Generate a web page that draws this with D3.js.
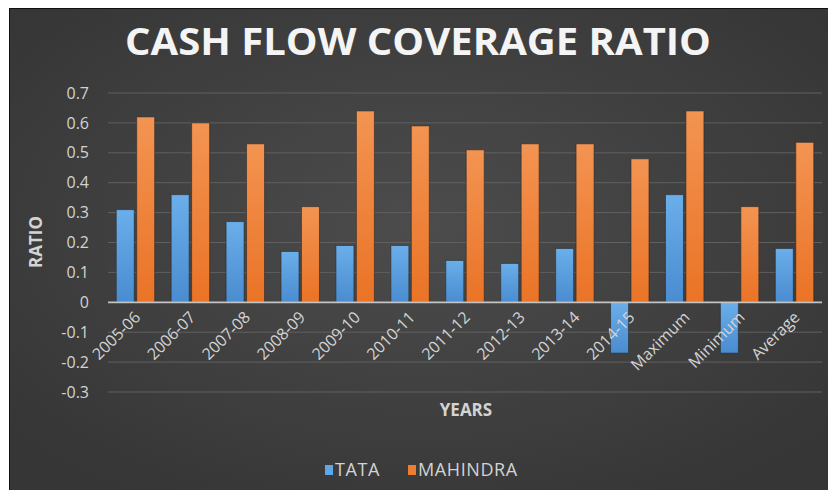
<!DOCTYPE html>
<html>
<head>
<meta charset="utf-8">
<script src="https://cdn.jsdelivr.net/npm/d3@7"></script>
<style>
  body { margin: 0; background: #fff; }
  svg { display: block; }
</style>
</head>
<body>
<div id="chart"></div>
<script>
const categories = ["2005-06", "2006-07", "2007-08", "2008-09", "2009-10", "2010-11", "2011-12",
    "2012-13", "2013-14", "2014-15", "Maximum", "Minimum", "Average"];
const tata = [0.31, 0.36, 0.27, 0.17, 0.19, 0.19, 0.14, 0.13, 0.18, -0.17, 0.36, -0.17, 0.18];
const mahindra = [0.62, 0.60, 0.53, 0.32, 0.64, 0.59, 0.51, 0.53, 0.53, 0.48, 0.64, 0.32, 0.535];
const seriesNames = ["TATA", "MAHINDRA"];
const yTicks = [-0.3, -0.2, -0.1, 0, 0.1, 0.2, 0.3, 0.4, 0.5, 0.6, 0.7];

const WIDTH = 828, HEIGHT = 490;
const MARGIN = {top: 93, right: 6, bottom: 98, left: 108};
const PLOT_W = WIDTH - MARGIN.left - MARGIN.right;
const PLOT_H = HEIGHT - MARGIN.top - MARGIN.bottom;
const FONT = "'Open Sans', 'DejaVu Sans', sans-serif";
const LABEL = "#d3d3d3";

const svg = d3.select("#chart").append("svg")
    .attr("width", WIDTH)
    .attr("height", HEIGHT);

const defs = svg.append("defs");
const bg = defs.append("radialGradient").attr("id", "bg")
    .attr("cx", "50%").attr("cy", "45%").attr("r", "65%");
bg.append("stop").attr("offset", "0%").attr("stop-color", "#4c4c4c");
bg.append("stop").attr("offset", "100%").attr("stop-color", "#363636");

function barGrad(id, top, bottom) {
    const g = defs.append("linearGradient").attr("id", id)
        .attr("x1", 0).attr("y1", 0).attr("x2", 0).attr("y2", 1);
    g.append("stop").attr("offset", "0%").attr("stop-color", top);
    g.append("stop").attr("offset", "100%").attr("stop-color", bottom);
}
barGrad("gTata", "#6aaeea", "#4a8cd0");
barGrad("gMah", "#f39452", "#ea7326");
const fills = ["url(#gTata)", "url(#gMah)"];
const swatch = ["#5ba7e8", "#ed7d31"];

// white frame + dark chart area
svg.append("rect").attr("width", WIDTH).attr("height", HEIGHT).attr("fill", "#fff");
svg.append("rect").attr("x", 9).attr("y", 8).attr("width", WIDTH - 9).attr("height", HEIGHT - 8)
    .attr("fill", "#111");
svg.append("rect").attr("x", 10).attr("y", 9).attr("width", WIDTH - 10).attr("height", HEIGHT - 9)
    .attr("fill", "url(#bg)");

// title
svg.append("text")
    .attr("x", 418).attr("y", 55)
    .attr("text-anchor", "middle")
    .attr("font-family", FONT).attr("font-weight", 700).attr("font-size", 38)
    .attr("fill", "#f4f4f4")
    .attr("textLength", 586).attr("lengthAdjust", "spacingAndGlyphs")
    .text("CASH FLOW COVERAGE RATIO");

const chart = svg.append("g")
    .attr("transform", `translate(${MARGIN.left},${MARGIN.top})`);

const x = d3.scaleBand().domain(categories).range([0, PLOT_W]).paddingInner(0.3).paddingOuter(0.15);
const xSub = d3.scaleBand().domain(seriesNames).range([0, x.bandwidth()]).paddingInner(0.12);
const y = d3.scaleLinear().domain([-0.3, 0.7]).range([PLOT_H, 0]);

// gridlines
chart.append("g")
    .selectAll("line")
    .data(yTicks.filter(d => d !== 0))
    .join("line")
    .attr("x1", 0).attr("x2", PLOT_W)
    .attr("y1", d => y(d)).attr("y2", d => y(d))
    .attr("stroke", "#606060").attr("stroke-width", 1);

// y axis labels (plain hyphen for negatives, like the original)
const yAxis = chart.append("g")
    .call(d3.axisLeft(y).tickValues(yTicks).tickSize(0).tickPadding(19)
        .tickFormat(d => d === 0 ? "0" : (d < 0 ? "-" : "") + Math.abs(d).toFixed(1)));
yAxis.select(".domain").remove();
yAxis.selectAll("text")
    .attr("font-family", FONT).attr("font-size", 16).attr("fill", LABEL);

// bars
const data = categories.map((c, i) => ({cat: c, vals: [tata[i], mahindra[i]]}));
const groups = chart.selectAll(".grp")
    .data(data)
    .join("g")
    .attr("class", "grp")
    .attr("transform", d => `translate(${x(d.cat)},0)`);

groups.selectAll("rect")
    .data(d => d.vals.map((v, k) => ({key: seriesNames[k], v, k})))
    .join("rect")
    .attr("x", d => xSub(d.key))
    .attr("width", xSub.bandwidth())
    .attr("y", d => y(Math.max(0, d.v)))
    .attr("height", d => Math.abs(y(d.v) - y(0)))
    .attr("fill", d => fills[d.k])
    .attr("stroke", "#2a2a2a").attr("stroke-opacity", 0.6).attr("stroke-width", 1);

// zero line
chart.append("line")
    .attr("x1", 0).attr("x2", PLOT_W)
    .attr("y1", y(0)).attr("y2", y(0))
    .attr("stroke", "#c4c4c4").attr("stroke-width", 1.8);

// x labels (rotated)
chart.append("g")
    .selectAll("text")
    .data(categories)
    .join("text")
    .attr("transform", d => `translate(${x(d) + x.bandwidth() / 2 + 6},${y(0) + 16}) rotate(-45)`)
    .attr("text-anchor", "end")
    .attr("font-family", FONT).attr("font-size", 16).attr("fill", LABEL)
    .text(d => d);

// axis titles
svg.append("text")
    .attr("x", 466).attr("y", 416)
    .attr("text-anchor", "middle")
    .attr("font-family", FONT).attr("font-weight", 700).attr("font-size", 17)
    .attr("fill", LABEL)
    .text("YEARS");

svg.append("text")
    .attr("transform", "translate(42,242) rotate(-90)")
    .attr("text-anchor", "middle")
    .attr("font-family", FONT).attr("font-weight", 700).attr("font-size", 17)
    .attr("fill", LABEL)
    .text("RATIO");

// legend
const legend = svg.append("g").attr("transform", "translate(325,476)");
const legendX = [0, 83];
const item = legend.selectAll("g")
    .data(seriesNames)
    .join("g")
    .attr("transform", (d, i) => `translate(${legendX[i]},0)`);
item.append("rect")
    .attr("x", 0).attr("y", -11).attr("width", 8).attr("height", 10)
    .attr("fill", (d, i) => swatch[i]);
item.append("text")
    .attr("x", 10).attr("y", 0)
    .attr("font-family", FONT).attr("font-size", 18).attr("fill", LABEL)
    .attr("letter-spacing", 0.6)
    .text(d => d);
</script>
</body>
</html>
